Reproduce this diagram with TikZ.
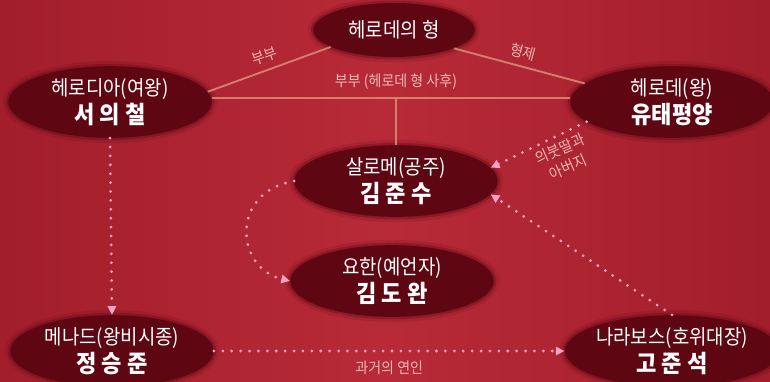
\documentclass[tikz,border=0pt]{standalone}
\usepackage{fontspec}
\setmainfont{Noto Sans CJK KR}[FakeStretch=0.92]
\usetikzlibrary{shapes.geometric,arrows.meta}

\definecolor{bgdark}{HTML}{A21E2C}
\definecolor{bglight}{HTML}{B82A38}
\definecolor{ellfill}{HTML}{5E0713}
\definecolor{tie}{HTML}{D68A73}
\definecolor{tietext}{HTML}{EDB9B6}
\definecolor{hint}{HTML}{F4A3C4}

\newcommand{\actor}[1]{{\fontsize{20.5pt}{24pt}\selectfont\bfseries #1}}

\tikzset{
  role/.style={ellipse, fill=ellfill, inner sep=0pt, align=center, text=white,
    minimum width=6.1cm, minimum height=2.15cm,
    font=\fontsize{17.5pt}{24pt}\selectfont,
    preaction={draw=ellfill, line width=9pt, draw opacity=0.15},
    preaction={draw=ellfill, line width=4pt, draw opacity=0.35}},
  tie/.style={draw=tie, line width=1.6pt, draw opacity=0.9},
  tielabel/.style={text=tietext, font=\fontsize{13pt}{16pt}\selectfont},
  hintarrow/.style={draw=hint, line width=2.6pt, line cap=round,
    dash pattern=on 0pt off 7.6pt, -{Triangle[length=7.5pt,width=7pt]}}
}

\begin{document}
\begin{tikzpicture}[x=0.03cm, y=-0.03cm]
  \shade[left color=bgdark, right color=bgdark, middle color=bglight]
    (0,0) rectangle (770,381);
  \useasboundingbox (0,0) rectangle (770,381);

  % family ties
  \node[role, minimum width=4.85cm, minimum height=1.62cm] (brother) at (394,30) {헤로데의 형};
  \node[role] (herodias) at (110,102) {헤로디아(여왕)\\\actor{서 의 철}};
  \node[role] (herod) at (672,102) {헤로데(왕)\\\actor{유태평양}};
  \node[role] (salome) at (396,181) {살로메(공주)\\\actor{김 준 수}};
  \node[role] (john) at (392,281) {요한(예언자)\\\actor{김 도 완}};
  \node[role] (menade) at (112,351) {메나드(왕비시종)\\\actor{정 승 준}};
  \node[role] (nara) at (672,351) {나라보스(호위대장)\\\actor{고 준 석}};

  \coordinate (wed) at (396,98);

  \draw[tie] (herodias.6) -- (brother.195)
    node[midway, sloped, above=2pt, tielabel] {부부};
  \draw[tie] (brother.343) -- (herod.168)
    node[midway, sloped, above=2pt, tielabel] {형제};
  \draw[tie] (herodias.east |- wed) -- (herod.west |- wed);
  \node[tielabel, above=4pt] (widow) at (wed) {부부 (헤로데 형 사후)};
  \draw[tie] (wed) -- (salome.north);

  % dotted hints
  \draw[hintarrow] (herodias.south) -- (menade.north);
  \draw[hintarrow] (salome.west) .. controls (230,192) and (235,268) .. (john.west);
  \draw[hintarrow] (herod.193) -- (salome.8);
  \node[tielabel, align=center, rotate=24] (stepdad) at (564,158) {의붓딸과\\[1pt]아버지};
  \draw[hintarrow] (nara.north) -- (salome.352);
  \draw[hintarrow] (menade.east) -- (nara.west)
    node[midway, below=4pt, tielabel] {과거의 연인};
\end{tikzpicture}
\end{document}
